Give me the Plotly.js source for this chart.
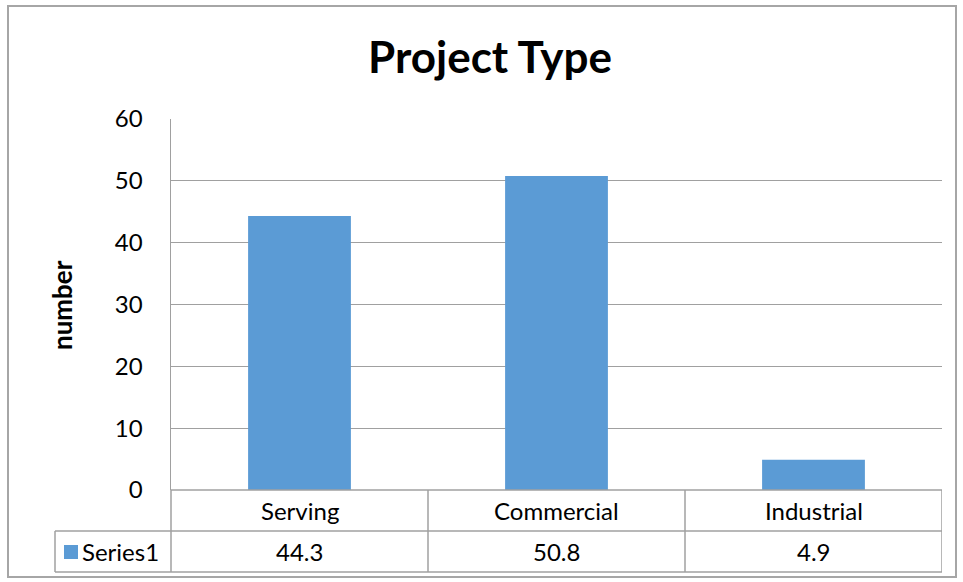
<!DOCTYPE html>
<html>
<head>
<meta charset="utf-8">
<script src="https://cdn.plot.ly/plotly-3.0.1.min.js"></script>
<style>
  html, body { margin: 0; padding: 0; background: #fff; }
  #chart { width: 963px; height: 582px; }
</style>
</head>
<body>
<div id="chart"></div>
<script>
// Project type shares, with a data table under the category axis
const categories = ['Serving', 'Commercial', 'Industrial'];
const seriesName = 'Series1';
const seriesValues = [44.3, 50.8, 4.9];
const yTicks = [0, 10, 20, 30, 40, 50, 60];

const W = 963, H = 582;
const M = { l: 171, r: 21, t: 119, b: 92 };
const plotW = W - M.l - M.r, plotH = H - M.t - M.b;

// pixel -> paper helpers for the table and frame drawn around the plot area
const px = x => (x - M.l) / plotW;
const py = y => (H - M.b - y) / plotH;

const FONT = 'Lato, "Open Sans", sans-serif';
const BAR = '#5B9BD5';
const LINE = '#A0A0A0';
const TXT = 24;

const rowTop = 490, rowMid = 531, rowBot = 572, keyLeft = 55;

const shapes = [];
function hline(x0, x1, y, xref) {
  shapes.push({ type: 'line', xref: xref, yref: 'paper', x0: x0, x1: x1, y0: py(y), y1: py(y),
    line: { color: LINE, width: 1.5 }, layer: 'above' });
}
function vline(x, y0, y1, xref) {
  shapes.push({ type: 'line', xref: xref, yref: 'paper', x0: x, x1: x, y0: py(y0), y1: py(y1),
    line: { color: LINE, width: 1.5 }, layer: 'above' });
}

// table grid: category row + series row
hline(0, 1, rowTop, 'paper');
hline(px(keyLeft), 1, rowMid, 'paper');
hline(px(keyLeft), 1, rowBot, 'paper');
vline(px(keyLeft), rowMid, rowBot, 'paper');
vline(0, rowTop, rowBot, 'paper');
for (let i = 0; i < categories.length; i++) {
  vline(i + 0.5, rowTop, rowBot, 'x');
}

// legend key square in the series cell
shapes.push({ type: 'rect', xref: 'paper', yref: 'paper',
  x0: px(64), x1: px(78), y0: py(559), y1: py(545),
  fillcolor: BAR, line: { width: 0 } });

// outer chart frame
shapes.push({ type: 'rect', xref: 'paper', yref: 'paper',
  x0: px(8), x1: px(956), y0: py(577), y1: py(6),
  line: { color: '#A6A6A6', width: 2 }, fillcolor: 'rgba(0,0,0,0)' });

const annotations = [];
categories.forEach((c, i) => {
  annotations.push({ xref: 'x', yref: 'paper', x: c, y: py((rowTop + rowMid) / 2),
    text: c, showarrow: false, xanchor: 'center', yanchor: 'middle',
    font: { family: FONT, size: TXT, color: '#000' } });
  annotations.push({ xref: 'x', yref: 'paper', x: c, y: py((rowMid + rowBot) / 2),
    text: String(seriesValues[i]), showarrow: false, xanchor: 'center', yanchor: 'middle',
    font: { family: FONT, size: TXT, color: '#000' } });
});
annotations.push({ xref: 'paper', yref: 'paper', x: px(80), y: py((rowMid + rowBot) / 2),
  text: seriesName, showarrow: false, xanchor: 'left', yanchor: 'middle',
  font: { family: FONT, size: TXT, color: '#000' } });
// value axis title
annotations.push({ xref: 'paper', yref: 'paper', x: px(62), y: py(305),
  text: '<b>number</b>', textangle: -90, showarrow: false, xanchor: 'center', yanchor: 'middle',
  font: { family: FONT, size: 26, color: '#000' } });

const trace = {
  type: 'bar',
  x: categories,
  y: seriesValues,
  name: seriesName,
  marker: { color: BAR, line: { width: 0 } },
  hoverinfo: 'x+y'
};

const layout = {
  width: W, height: H,
  margin: M,
  paper_bgcolor: '#fff',
  plot_bgcolor: '#fff',
  showlegend: false,
  bargap: 0.6,
  title: {
    text: '<b>Project Type</b>',
    font: { family: FONT, size: 44, color: '#000' },
    xref: 'paper', x: px(490), xanchor: 'center',
    yref: 'container', y: 1 - 58 / H, yanchor: 'middle'
  },
  xaxis: {
    type: 'category',
    range: [-0.5, categories.length - 0.5],
    showticklabels: false, showgrid: false, zeroline: false, showline: false,
    ticks: ''
  },
  yaxis: {
    range: [0, 60],
    tickmode: 'array', tickvals: yTicks, ticktext: yTicks.map(String),
    showgrid: true, gridcolor: LINE, gridwidth: 1.3,
    zeroline: false,
    showline: true, linecolor: LINE, linewidth: 1.5,
    ticks: 'outside', ticklen: 22, tickcolor: 'rgba(0,0,0,0)',
    tickfont: { family: FONT, size: TXT, color: '#000' }
  },
  shapes: shapes,
  annotations: annotations
};

Plotly.newPlot('chart', [trace], layout, { displayModeBar: false, staticPlot: true });
</script>
</body>
</html>
